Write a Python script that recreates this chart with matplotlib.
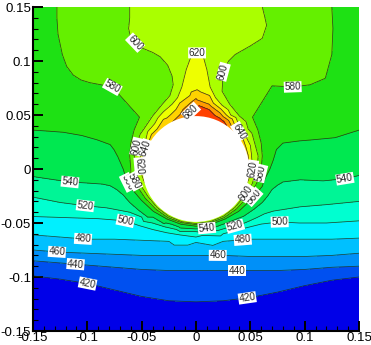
import numpy as np
import matplotlib
matplotlib.use("Agg")
import matplotlib.pyplot as plt
import matplotlib.tri as mtri
from matplotlib.patches import Circle
from matplotlib.ticker import FixedLocator, MultipleLocator

plt.rcParams["font.family"] = ["Liberation Sans", "DejaVu Sans"]

# ── contour levels and band colours (Tecplot-like rainbow) ──
LEVELS = [420, 440, 460, 480, 500, 520, 540, 560, 580, 600, 620, 640, 660, 680]
BAND_COLORS = ["#0000e8", "#0050f0", "#0090f8", "#00c0ff", "#00f0ff", "#00ffd0",
               "#00f596", "#00e850", "#1ee114", "#64f000", "#aaff00", "#eeff00",
               "#ffd200", "#ff9c00", "#ff4000"]
R_CYL = 0.049

# ── contour lines (x, y) ──
X_ST = [-0.15, -0.125, -0.1, -0.075, -0.05, -0.025, 0, 0.025, 0.05, 0.075, 0.1, 0.125, 0.15]
L420_Y = [-0.099, -0.102, -0.106, -0.112, -0.118, -0.122, -0.123, -0.122, -0.119, -0.114, -0.108, -0.103, -0.100]
L440_Y = [-0.085, -0.087, -0.089, -0.091, -0.093, -0.094, -0.094, -0.094, -0.094, -0.094, -0.093, -0.091, -0.090]
L460_Y = [-0.075, -0.077, -0.078, -0.079, -0.080, -0.080, -0.080, -0.080, -0.081, -0.081, -0.081, -0.080, -0.078]
L480_Y = [-0.061, -0.063, -0.065, -0.065, -0.066, -0.067, -0.068, -0.067, -0.065, -0.065, -0.065, -0.065, -0.064]

L500_X = [-0.15, -0.12, -0.09, -0.065, -0.052, -0.04, -0.027, -0.015, 0.006, 0.025, 0.04, 0.05,
          0.06, 0.077, 0.095, 0.12, 0.15]
L500_Y = [-0.044, -0.045, -0.046, -0.048, -0.0525, -0.056, -0.059, -0.061, -0.0615, -0.060, -0.056, -0.0535,
          -0.051, -0.049, -0.050, -0.050, -0.048]

L520_X = [-0.15, -0.125, -0.102, -0.082, -0.061, -0.05, -0.04, -0.029, -0.018, 0, 0.02, 0.036,
          0.046, 0.056, 0.063, 0.071, 0.096, 0.12, 0.15]
L520_Y = [-0.026, -0.031, -0.034, -0.036, -0.040, -0.0445, -0.050, -0.0535, -0.056, -0.058, -0.057, -0.053,
          -0.0495, -0.045, -0.0415, -0.039, -0.035, -0.033, -0.030]

L540_X = [-0.15, -0.13, -0.116, -0.1, -0.086, -0.079, -0.073, -0.067, -0.061, -0.053, -0.0445, -0.0293,
          -0.0146, 0, 0.0144, 0.0288, 0.0438, 0.053, 0.061, 0.066, 0.07, 0.075, 0.08, 0.096, 0.117,
          0.137, 0.15]
L540_Y = [-0.007, -0.010, -0.012, -0.013, -0.014, -0.0155, -0.019, -0.024, -0.031, -0.038, -0.0445, -0.0507,
          -0.0546, -0.0555, -0.0536, -0.0498, -0.0438, -0.0375, -0.031, -0.025, -0.019, -0.015, -0.012, -0.010, -0.011,
          -0.009, -0.006]

L560_X = [-0.15, -0.135, -0.122, -0.105, -0.091, -0.079, -0.0755, -0.072, -0.067, -0.064,
          0.063, 0.068, 0.071, 0.074, 0.0765, 0.080, 0.095, 0.107, 0.128, 0.15]
L560_Y = [0.036, 0.035, 0.034, 0.031, 0.027, 0.0226, 0.018, 0.0115, 0.0, -0.01,
          -0.01, 0.0, 0.008, 0.018, 0.022, 0.024, 0.026, 0.027, 0.029, 0.036]

L580_X = [-0.128, -0.128, -0.127, -0.123, -0.119, -0.113, -0.106, -0.098, -0.077, -0.060, -0.050,
          -0.046, -0.047, -0.052, -0.057, -0.060, -0.061, -0.060,
          0.060, 0.061, 0.060, 0.057, 0.052, 0.047, 0.045, 0.0515, 0.070, 0.089, 0.105, 0.119,
          0.125, 0.126, 0.125]
L580_Y = [0.15, 0.14, 0.125, 0.106, 0.095, 0.087, 0.0825, 0.080, 0.076, 0.076, 0.073,
          0.066, 0.058, 0.048, 0.036, 0.024, 0.012, 0.0,
          0.0, 0.012, 0.024, 0.036, 0.048, 0.058, 0.067, 0.078, 0.077, 0.076, 0.078, 0.084,
          0.106, 0.13, 0.15]

L600_X = [-0.061, -0.061, -0.062, -0.060, -0.052, -0.040, -0.033, -0.026, -0.022, -0.021, -0.024,
          -0.031, -0.040, -0.048, -0.054, -0.0565, -0.056,
          0.056, 0.0572, 0.054, 0.048, 0.040, 0.031, 0.024, 0.025, 0.030, 0.036, 0.050, 0.061,
          0.065, 0.063, 0.061]
L600_Y = [0.15, 0.14, 0.130, 0.121, 0.113, 0.108, 0.104, 0.096, 0.086, 0.078, 0.068,
          0.060, 0.049, 0.037, 0.024, 0.012, 0.0,
          0.0, 0.012, 0.024, 0.037, 0.049, 0.060, 0.072, 0.090, 0.100, 0.106, 0.114, 0.121,
          0.133, 0.142, 0.15]

L620_X = [-0.052, -0.0512, -0.046, -0.038, -0.030, -0.022, -0.017, -0.013, -0.009, -0.005, 0.001,
          0.007, 0.010, 0.013, 0.018, 0.024, 0.032, 0.040, 0.046, 0.051, 0.052]
L620_Y = [0.0, 0.0137, 0.028, 0.042, 0.053, 0.060, 0.066, 0.076, 0.092, 0.103, 0.1075,
          0.103, 0.092, 0.076, 0.066, 0.059, 0.050, 0.040, 0.030, 0.014, 0.0]

L640_X = [-0.047, -0.041, -0.030, -0.015, 0.001, 0.016, 0.028, 0.036, 0.0415, 0.046]
L640_Y = [0.018, 0.032, 0.046, 0.061, 0.0734, 0.061, 0.050, 0.040, 0.033, 0.020]
L660_X = [-0.012, 0.001, 0.012, 0.022, 0.030]
L660_Y = [0.055, 0.064, 0.060, 0.052, 0.045]
L680_X = [-0.004, 0.003, 0.012, 0.022]
L680_Y = [0.054, 0.0586, 0.055, 0.047]

# lines hugging the lower half of the cylinder (angle in deg, radius)
RING_ANG = [195, 210, 225, 240, 255, 270, 285, 300, 315, 330, 345]
R600 = [0.0535, 0.051, 0.0505, 0.0505, 0.0505, 0.0505, 0.0505, 0.0505, 0.0505, 0.051, 0.0535]
R580 = [0.057, 0.054, 0.0525, 0.052, 0.0515, 0.0515, 0.0515, 0.052, 0.0525, 0.054, 0.057]
R560 = [0.063, 0.058, 0.0555, 0.0535, 0.053, 0.053, 0.053, 0.0535, 0.0555, 0.058, 0.063]

# temperature on the cylinder wall
WALL_ANG = list(range(0, 360, 15))
WALL_T = [633, 644, 652, 664, 690, 700, 698, 672, 656, 650, 647, 643,
          633, 620, 613, 609, 607, 606, 606, 606, 607, 609, 613, 620]

# a few values inside bands (edges, corners, plume core)
FILL_X = [-0.15, -0.095, 0, 0.095, 0.15, -0.15, 0.15, -0.15, 0.15, -0.1, 0.1, -0.09, 0.092,
          -0.04, 0.042, -0.03, 0, 0.03, 0, 0, 0, -0.1, 0.1,
          -0.15, -0.075, 0, 0.075, 0.15]
FILL_Y = [0.15, 0.15, 0.15, 0.15, 0.15, 0.09, 0.09, 0.015, 0.015, 0.055, 0.055, 0.115, 0.11,
          0.09, 0.09, 0.13, 0.125, 0.13, 0.09, 0.069, 0.0615, 0.01, 0.01,
          -0.15, -0.15, -0.15, -0.15, -0.15]
FILL_T = [570, 590, 613, 590, 570, 570, 570, 550, 550, 570, 570, 590, 590,
          592, 592, 608, 614, 608, 630, 650, 670, 550, 550,
          405, 402, 400, 402, 405]

# contour labels per level
LABELS = {
    420: [(-0.1, -0.107), (0.047, -0.118)],
    440: [(-0.111, -0.090), (0.038, -0.094)],
    460: [(-0.128, -0.077), (0.020, -0.080)],
    480: [(-0.104, -0.065), (0.043, -0.065)],
    500: [(-0.065, -0.048), (0.077, -0.049)],
    520: [(-0.102, -0.034), (0.036, -0.053)],
    540: [(-0.116, -0.012), (0.137, -0.009), (0.010, -0.0555)],
    560: [(-0.064, -0.013), (0.052, -0.025)],
    580: [(-0.077, 0.076), (0.089, 0.076), (-0.058, -0.012), (0.0595, -0.004)],
    600: [(-0.056, 0.117), (0.025, 0.090), (-0.056, 0.021), (0.046, -0.022)],
    620: [(0.001, 0.1075), (-0.052, 0.0025), (0.052, 0.0)],
    640: [(0.040, 0.035), (-0.046, 0.019)],
    680: [(-0.007, 0.055)],
}

TICKS = [-0.15, -0.1, -0.05, 0, 0.05, 0.1, 0.15]
TICK_LABELS = ["-0.15", "-0.1", "-0.05", "0", "0.05", "0.1", "0.15"]

# ── build scattered field ──
px, py, pt, pw = [], [], [], []
def add(xl, yl, tl, wall=False):
    for x, y, t in zip(xl, yl, tl):
        px.append(x); py.append(y); pt.append(t); pw.append(wall)

add(X_ST, L420_Y, [420] * 13)
add(X_ST, L440_Y, [440] * 13)
add(X_ST, L460_Y, [460] * 13)
add(X_ST, L480_Y, [480] * 13)
for lev, xl, yl in [(500, L500_X, L500_Y), (520, L520_X, L520_Y), (540, L540_X, L540_Y),
                    (560, L560_X, L560_Y), (580, L580_X, L580_Y), (600, L600_X, L600_Y),
                    (620, L620_X, L620_Y), (640, L640_X, L640_Y), (660, L660_X, L660_Y),
                    (680, L680_X, L680_Y)]:
    add(xl, yl, [lev] * len(xl))
th = np.radians(RING_ANG)
for lev, rr in [(600, R600), (580, R580), (560, R560)]:
    rr = np.array(rr)
    add(rr * np.cos(th), rr * np.sin(th), [lev] * len(rr))
tw = np.radians(WALL_ANG)
add(R_CYL * np.cos(tw), R_CYL * np.sin(tw), WALL_T, wall=True)
add(FILL_X, FILL_Y, FILL_T)

px, py, pt, pw = map(np.array, (px, py, pt, pw))
tri = mtri.Triangulation(px, py)
tri.set_mask(pw[tri.triangles].all(axis=1))   # no triangles across the cylinder

fig = plt.figure(figsize=(3.71, 3.45), dpi=100)
ax = fig.add_axes([33 / 371, 1 - 331 / 345, 326 / 371, 324 / 345])
ax.tricontourf(tri, pt, levels=[300] + LEVELS + [800], colors=BAND_COLORS)
ax.add_patch(Circle((0, 0), R_CYL, facecolor="white", edgecolor="none", zorder=3))

# one line set per level so that manual labels snap to the right line
for lev in LEVELS:
    cs = ax.tricontour(tri, pt, levels=[lev], colors="#1e2a1e", linewidths=0.55, alpha=0.85)
    if lev in LABELS:
        texts = ax.clabel(cs, manual=LABELS[lev], inline=False, fontsize=7.2,
                          colors="black", fmt="%d", zorder=5)
        for t in texts:
            t.set_bbox(dict(boxstyle="square,pad=0.05", facecolor="white", edgecolor="none"))

ax.set_xlim(-0.15, 0.15)
ax.set_ylim(-0.15, 0.15)
ax.xaxis.set_major_locator(FixedLocator(TICKS))
ax.yaxis.set_major_locator(FixedLocator(TICKS))
ax.set_xticklabels(TICK_LABELS)
ax.set_yticklabels(TICK_LABELS)
ax.xaxis.set_minor_locator(MultipleLocator(0.01))
ax.yaxis.set_minor_locator(MultipleLocator(0.01))
ax.tick_params(which="major", direction="in", length=7, width=1.4, labelsize=9.5)
ax.tick_params(axis="y", which="major", pad=1.5)
ax.tick_params(axis="x", which="major", pad=0.5)
ax.tick_params(which="minor", direction="in", length=3.5, width=0.8)
ax.tick_params(top=False, right=False, which="both")
for s in ["top", "right"]:
    ax.spines[s].set_visible(False)
for s in ["left", "bottom"]:
    ax.spines[s].set_linewidth(1.5)

fig.savefig("out.png", dpi=100)
